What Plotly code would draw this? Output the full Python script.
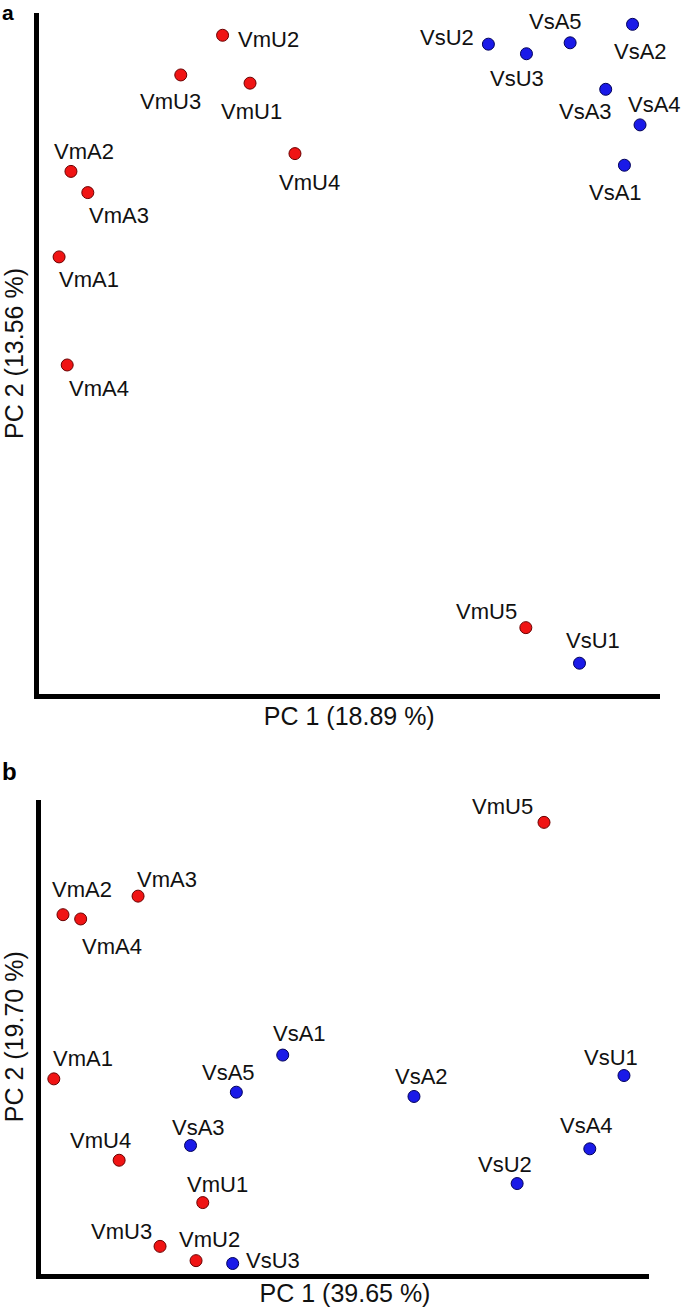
import plotly.graph_objects as go

# ---------------- Panel a data (PC1 18.89 %, PC2 13.56 %) ----------------
a_names = ["VmU2", "VmU3", "VmU1", "VmU4", "VmA2", "VmA3", "VmA1", "VmA4", "VmU5",
           "VsU2", "VsU3", "VsA5", "VsA2", "VsA3", "VsA4", "VsA1", "VsU1"]
a_pc1 = [29.9, 23.2, 34.3, 41.5, 5.6, 8.3, 3.7, 5.0, 78.5,
         72.5, 78.6, 85.6, 95.6, 91.3, 96.8, 94.3, 87.1]
a_pc2 = [96.7, 90.9, 89.7, 79.4, 76.8, 73.7, 64.3, 48.5, 10.1,
         95.4, 94.0, 95.6, 98.3, 88.8, 83.6, 77.7, 4.9]
a_group = ["Vm"] * 9 + ["Vs"] * 8

# ---------------- Panel b data (PC1 39.65 %, PC2 19.70 %) ----------------
b_names = ["VmA2", "VmA4", "VmA3", "VmA1", "VmU4", "VmU1", "VmU3", "VmU2", "VmU5",
           "VsA1", "VsA5", "VsA3", "VsU3", "VsU1", "VsA2", "VsA4", "VsU2"]
b_pc1 = [4.0, 6.9, 16.3, 2.5, 13.2, 26.9, 19.9, 25.8, 82.8,
         40.0, 32.4, 24.9, 31.8, 95.9, 61.5, 90.3, 78.4]
b_pc2 = [75.9, 75.0, 79.8, 41.4, 24.3, 15.4, 6.2, 3.2, 95.3,
         46.4, 38.6, 27.4, 2.6, 42.1, 37.7, 26.7, 19.4]
b_group = ["Vm"] * 9 + ["Vs"] * 8

# label placement offsets (pixels: dx right, dy down) -- styling only
a_offsets = {
    "VmU2": (46, 4), "VmU3": (-10, 27), "VmU1": (1, 28), "VmU4": (15, 29),
    "VmA2": (13, -20), "VmA3": (31, 23), "VmA1": (30, 23), "VmA4": (32, 24),
    "VmU5": (-39, -16), "VsU2": (-41, -7), "VsU3": (-9, 25), "VsA5": (-15, -21),
    "VsA2": (8, 27), "VsA3": (-20, 22), "VsA4": (14, -20), "VsA1": (-9, 27),
    "VsU1": (13, -23),
}
b_offsets = {
    "VmA2": (19, -25), "VmA4": (31, 28), "VmA3": (29, -17), "VmA1": (29, -20),
    "VmU4": (-19, -20), "VmU1": (15, -18), "VmU3": (-39, -15), "VmU2": (13, -21),
    "VmU5": (-42, -16), "VsA1": (17, -22), "VsA5": (-8, -20), "VsA3": (8, -18),
    "VsU3": (40, -3), "VsU1": (-13, -18), "VsA2": (8, -20), "VsA4": (-3, -23),
    "VsU2": (-12, -19),
}

W, H = 685, 1311
FONT = "Liberation Sans, Arial, sans-serif"
colors = {"Vm": "#f01414", "Vs": "#1a1ae8"}
edges = {"Vm": "#6a0000", "Vs": "#00005a"}

fig = go.Figure()

def add_panel(names, xs, ys, groups, xa, ya):
    fig.add_trace(go.Scatter(
        x=xs, y=ys, mode="markers", xaxis=xa, yaxis=ya, showlegend=False,
        marker=dict(size=12, color=[colors[g] for g in groups],
                    line=dict(color=[edges[g] for g in groups], width=1)),
        hoverinfo="text", text=names))

add_panel(a_names, a_pc1, a_pc2, a_group, "x", "y")
add_panel(b_names, b_pc1, b_pc2, b_group, "x2", "y2")

ann = []
for n, x, y in zip(a_names, a_pc1, a_pc2):
    dx, dy = a_offsets[n]
    ann.append(dict(x=x, y=y, xref="x", yref="y", text=n, showarrow=False,
                    xshift=dx, yshift=-dy, font=dict(size=22, color="#111", family=FONT)))
for n, x, y in zip(b_names, b_pc1, b_pc2):
    dx, dy = b_offsets[n]
    ann.append(dict(x=x, y=y, xref="x2", yref="y2", text=n, showarrow=False,
                    xshift=dx, yshift=-dy, font=dict(size=22, color="#111", family=FONT)))

# panel letters
ann.append(dict(x=0, y=1 + 1 / H, xref="paper", yref="paper", text="<b>a</b>",
                showarrow=False, xanchor="left", yanchor="top",
                font=dict(size=21, color="black", family=FONT)))
ann.append(dict(x=0, y=1 - 756 / H, xref="paper", yref="paper", text="<b>b</b>",
                showarrow=False, xanchor="left", yanchor="top",
                font=dict(size=24, color="black", family=FONT)))
fig.update_layout(annotations=ann)

def px(v):
    return v / W

def py(v):
    return 1 - v / H

axis_common = dict(showgrid=False, zeroline=False, showticklabels=False, ticks="",
                   showline=True, linecolor="black", linewidth=5, mirror=False,
                   fixedrange=True, automargin=False)
title_font = dict(size=25, color="#111", family=FONT)

fig.update_layout(
    width=W, height=H, margin=dict(l=0, r=0, t=0, b=0, autoexpand=False),
    paper_bgcolor="white", plot_bgcolor="white",
    xaxis=dict(domain=[px(38.5), px(660)], range=[0.4, 100], anchor="y",
               title=dict(text="PC 1 (18.89 %)", font=title_font, standoff=11), **axis_common),
    yaxis=dict(domain=[py(694.2), py(12.7)], range=[0.37, 100], anchor="x",
               title=dict(text="PC 2 (13.56 %)", font=title_font, standoff=5), **axis_common),
    xaxis2=dict(domain=[px(41), px(649)], range=[0.4, 100], anchor="y2",
                title=dict(text="PC 1 (39.65 %)", font=title_font, standoff=8), **axis_common),
    yaxis2=dict(domain=[py(1273.5), py(800)], range=[0.5, 100], anchor="x2",
                title=dict(text="PC 2 (19.70 %)", font=title_font, standoff=7), **axis_common),
)

fig.write_html("out.html", config={"displayModeBar": False},
               post_script="document.body.style.margin='0';document.body.style.padding='0';")
